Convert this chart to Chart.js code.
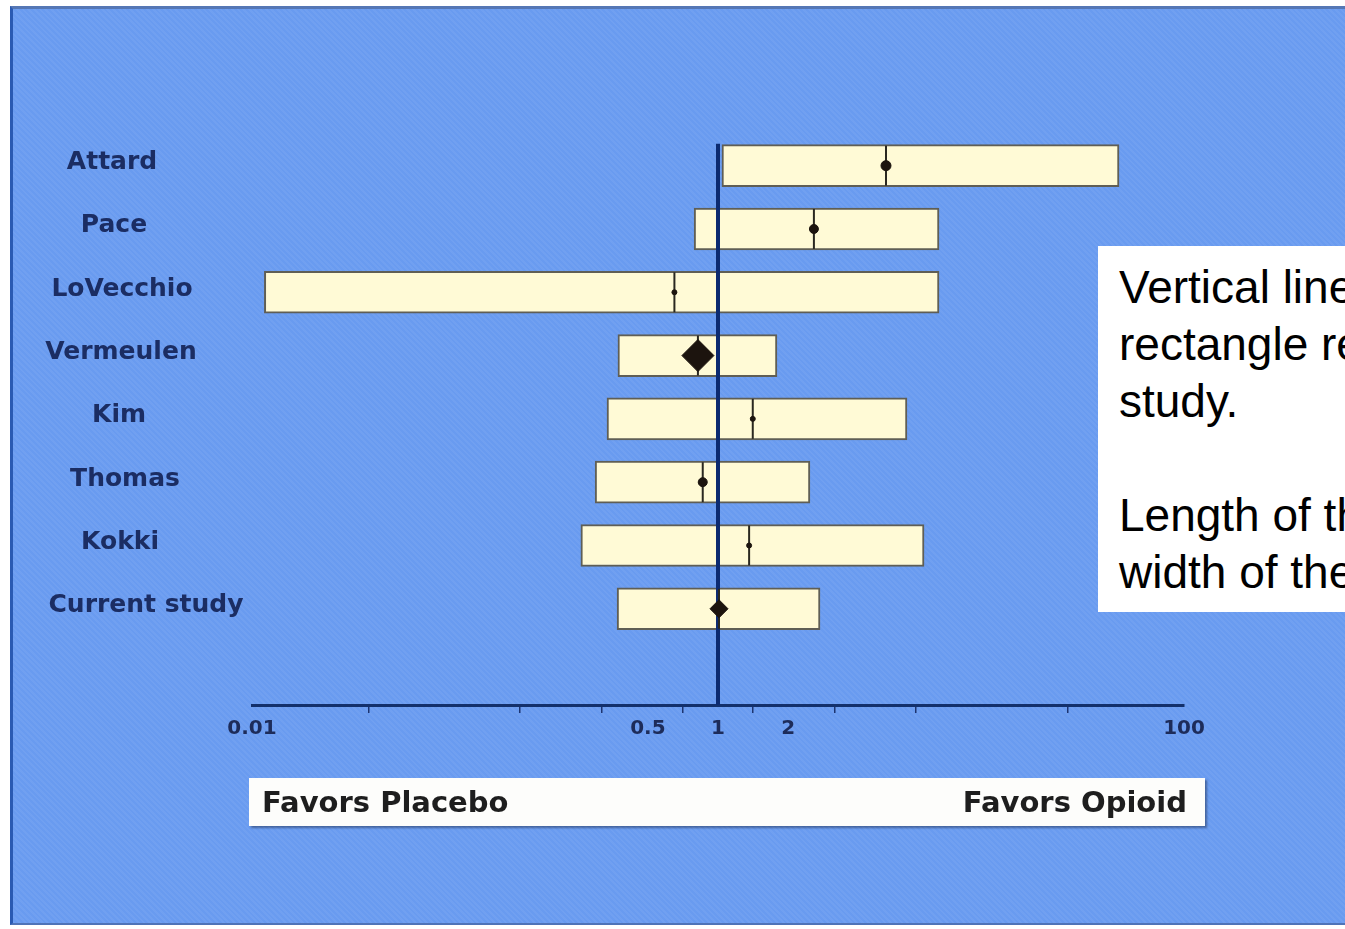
<!DOCTYPE html>
<html>
<head>
<meta charset="utf-8">
<script src="https://cdn.jsdelivr.net/npm/chart.js@4/dist/chart.umd.min.js"></script>
<style>
    html, body { margin: 0; padding: 0; background: #ffffff; overflow: hidden; }
    #stage { position: relative; width: 1345px; height: 929px; }
    #panel {
        position: absolute; left: 10px; top: 6px; right: 0; bottom: 4px;
        background-color: #699bf0;
        background-image: repeating-linear-gradient(45deg, rgba(255,255,255,0.05) 0 2px, rgba(0,0,0,0) 2px 4px);
        border-top: 3px solid #5577b5;
        border-left: 3px solid #2a5ab2;
        border-bottom: 2px solid #4f74b8;
    }
    #forestChart { position: absolute; left: 0; top: 0; }
    #sideBox {
        position: absolute; left: 249px; top: 778px; width: 956px; height: 48px;
        background: #fdfdfb; box-shadow: 2px 2px 2px rgba(20, 30, 60, 0.45);
        display: flex; justify-content: space-between; align-items: center;
        padding: 0 18px 0 13px; box-sizing: border-box;
        font: bold 29px "DejaVu Sans", sans-serif; color: #1e1e1e;
    }
    #noteBox {
        position: absolute; left: 1098px; top: 246px; width: 400px; height: 366px;
        background: #ffffff; padding: 13px 0 0 21px; box-sizing: border-box;
        font: 46px "Liberation Sans", Arial, sans-serif; line-height: 57px; color: #000000;
        white-space: pre;
    }
    #clip { position: absolute; left: 0; top: 0; width: 1345px; height: 929px; overflow: hidden; }
</style>
</head>
<body>
<div id="clip">
    <div id="stage">
        <div id="panel"></div>
        <canvas id="forestChart" width="1345" height="929"></canvas>
        <div id="sideBox"><span id="leftSide"></span><span id="rightSide"></span></div>
        <div id="noteBox"></div>
    </div>
</div>
<script>
    const studies = ['Attard', 'Pace', 'LoVecchio', 'Vermeulen', 'Kim', 'Thomas', 'Kokki', 'Current study'];
    const estimate = [5.26, 2.58, 0.65, 0.82, 1.41, 0.86, 1.36, 1.01];
    const ciLow = [1.04, 0.79, 0.0113, 0.372, 0.334, 0.297, 0.258, 0.369];
    const ciHigh = [52.6, 8.88, 8.88, 1.79, 6.47, 2.48, 7.66, 2.74];
    const tickValues = [0.01, 0.1, 0.2, 0.5, 1, 2, 5, 10, 100];
    const labeledTicks = [0.01, 0.5, 1, 2, 100];
    const refValue = 1;
    const sideLabels = ['Favors Placebo', 'Favors Opioid'];
    const noteLines = [
        'Vertical line within each',
        'rectangle represents each',
        'study.',
        '',
        'Length of the rectangle is the',
        'width of the confidence interval'
    ];

    // styling per study marker (not data)
    const markerStyle = ['circle', 'circle', 'circle', 'rectRot', 'circle', 'circle', 'circle', 'rectRot'];
    const markerRadius = [5, 4.5, 2.5, 16, 2.5, 4.5, 2.5, 9];
    const labelCenterX = [112, 114, 122, 121, 119, 125, 120, 146];
    const barThickness = 42;

    document.getElementById('leftSide').textContent = sideLabels[0];
    document.getElementById('rightSide').textContent = sideLabels[1];
    document.getElementById('noteBox').textContent = noteLines.join('\n');

    const refLinePlugin = {
        id: 'refLine',
        afterDatasetDraw(chart, args) {
            if (args.index !== 0) return;
            const ctx = chart.ctx;
            const x = chart.scales.x.getPixelForValue(refValue);
            const top = chart.scales.y.getPixelForValue(0) - barThickness / 2 - 1;
            ctx.save();
            ctx.strokeStyle = '#0c2a70';
            ctx.lineWidth = 4;
            ctx.beginPath();
            ctx.moveTo(x, top);
            ctx.lineTo(x, chart.chartArea.bottom);
            ctx.stroke();
            ctx.restore();
        }
    };

    const studyLabelPlugin = {
        id: 'studyLabels',
        afterDraw(chart) {
            const ctx = chart.ctx;
            ctx.save();
            ctx.font = 'bold 25px "DejaVu Sans", sans-serif';
            ctx.fillStyle = '#1b2d63';
            ctx.textAlign = 'center';
            ctx.textBaseline = 'middle';
            studies.forEach((name, i) => {
                ctx.fillText(name, labelCenterX[i], chart.scales.y.getPixelForValue(i) - 3);
            });
            ctx.restore();
        }
    };

    new Chart(document.getElementById('forestChart'), {
        type: 'bar',
        data: {
            datasets: [
                {
                    type: 'bar',
                    indexAxis: 'y',
                    order: 2,
                    data: studies.map((s, i) => ({ x: [ciLow[i], ciHigh[i]], y: i })),
                    backgroundColor: '#fffad6',
                    borderColor: '#5f5e55',
                    borderWidth: 2,
                    borderSkipped: false,
                    barThickness: barThickness
                },
                {
                    type: 'scatter',
                    order: 1,
                    data: studies.map((s, i) => ({ x: estimate[i], y: i })),
                    pointStyle: 'line',
                    pointRotation: 90,
                    pointRadius: 20,
                    pointBorderWidth: 2,
                    pointBorderColor: '#2a2820'
                },
                {
                    type: 'scatter',
                    order: 0,
                    data: studies.map((s, i) => ({ x: estimate[i], y: i })),
                    pointStyle: markerStyle,
                    pointRadius: markerRadius,
                    pointBackgroundColor: '#1c140e',
                    pointBorderColor: '#1c140e',
                    pointBorderWidth: 1
                }
            ]
        },
        options: {
            responsive: false,
            animation: false,
            events: [],
            layout: {
                padding: { left: 252, right: 161, top: 134, bottom: 184 }
            },
            plugins: {
                legend: { display: false },
                tooltip: { enabled: false }
            },
            scales: {
                x: {
                    type: 'logarithmic',
                    min: 0.01,
                    max: 100,
                    offset: false,
                    afterBuildTicks: (scale) => {
                        scale.ticks = tickValues.map(v => ({ value: v }));
                    },
                    afterFit: (scale) => {
                        scale.height = 40;
                    },
                    grid: {
                        drawOnChartArea: false,
                        tickLength: 8,
                        color: '#1d3470',
                        lineWidth: 1.5
                    },
                    border: {
                        display: true,
                        color: '#13306b',
                        width: 3
                    },
                    ticks: {
                        autoSkip: false,
                        maxRotation: 0,
                        padding: 4,
                        color: '#1d2c5a',
                        font: { family: 'DejaVu Sans', weight: 'bold', size: 20 },
                        callback: (value) => labeledTicks.includes(value) ? String(value) : ''
                    }
                },
                y: {
                    type: 'linear',
                    display: false,
                    reverse: true,
                    offset: false,
                    min: -0.5,
                    max: 8.52
                }
            }
        },
        plugins: [refLinePlugin, studyLabelPlugin]
    });
</script>
</body>
</html>
